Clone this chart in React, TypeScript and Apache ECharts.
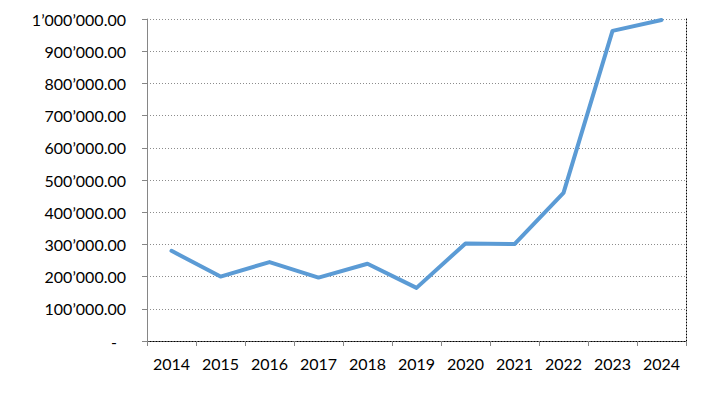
import React, { useEffect, useRef } from "react";
import * as echarts from "echarts";

const years = ["2014", "2015", "2016", "2017", "2018", "2019", "2020", "2021", "2022", "2023", "2024"];
const values = [280000, 200000, 245000, 197000, 240000, 165000, 303000, 301000, 460000, 963000, 997000];
const yMin = 0;
const yMax = 1000000;
const yStep = 100000;

function fmt(v: number): string {
  if (v === 0) return "{d|-}";
  const s = Math.round(v).toString().replace(/\B(?=(\d{3})+(?!\d))/g, "\u2019");
  return s + ".00";
}

export default function App() {
  const ref = useRef<HTMLDivElement>(null);
  useEffect(() => {
    if (!ref.current) return;
    const chart = echarts.init(ref.current, null, { renderer: "svg" });
    const font = "Lato";
    chart.setOption({
      animation: false,
      backgroundColor: "#ffffff",
      grid: { left: 147, right: 36, top: 19, bottom: 53, containLabel: false },
      xAxis: [
        {
          type: "category",
          data: years,
          boundaryGap: true,
          axisLine: { show: true, lineStyle: { color: "#868686", width: 1 } },
          axisTick: { show: true, length: 5, lineStyle: { color: "#868686" } },
          axisLabel: { color: "#000", fontFamily: font, fontSize: 16, margin: 14 },
          splitLine: { show: false },
        },
        {
          type: "category",
          data: years,
          position: "top",
          axisLine: { show: true, lineStyle: { color: "#000", type: [1, 2], width: 1 } },
          axisTick: { show: false },
          axisLabel: { show: false },
        },
      ],
      yAxis: [
        {
          type: "value",
          min: yMin,
          max: yMax,
          interval: yStep,
          axisLine: { show: true, lineStyle: { color: "#868686", width: 1 } },
          axisTick: { show: true, length: 5, lineStyle: { color: "#868686" } },
          axisLabel: {
            color: "#000",
            fontFamily: font,
            fontSize: 16,
            margin: 21,
            formatter: (v: number) => fmt(v),
            rich: { d: { color: "#000", fontFamily: font, fontSize: 16, padding: [0, 9, 0, 0] } },
          },
          splitLine: { show: true, lineStyle: { color: "#8c8c8c", type: [1, 2], width: 1 } },
        },
        {
          type: "value",
          min: yMin,
          max: yMax,
          interval: yStep,
          position: "right",
          axisLine: { show: true, lineStyle: { color: "#000", type: [1, 2], width: 1 } },
          axisTick: { show: false },
          axisLabel: { show: false },
          splitLine: { show: false },
        },
      ],
      series: [
        {
          type: "line",
          data: values,
          xAxisIndex: 0,
          yAxisIndex: 0,
          symbol: "none",
          lineStyle: { color: "#5B9BD5", width: 4, join: "round", cap: "round" },
          itemStyle: { color: "#5B9BD5" },
        },
      ],
    });
    return () => chart.dispose();
  }, []);
  return <div ref={ref} style={{ width: 722, height: 394, position: "absolute", left: 0, top: 0 }} />;
}
